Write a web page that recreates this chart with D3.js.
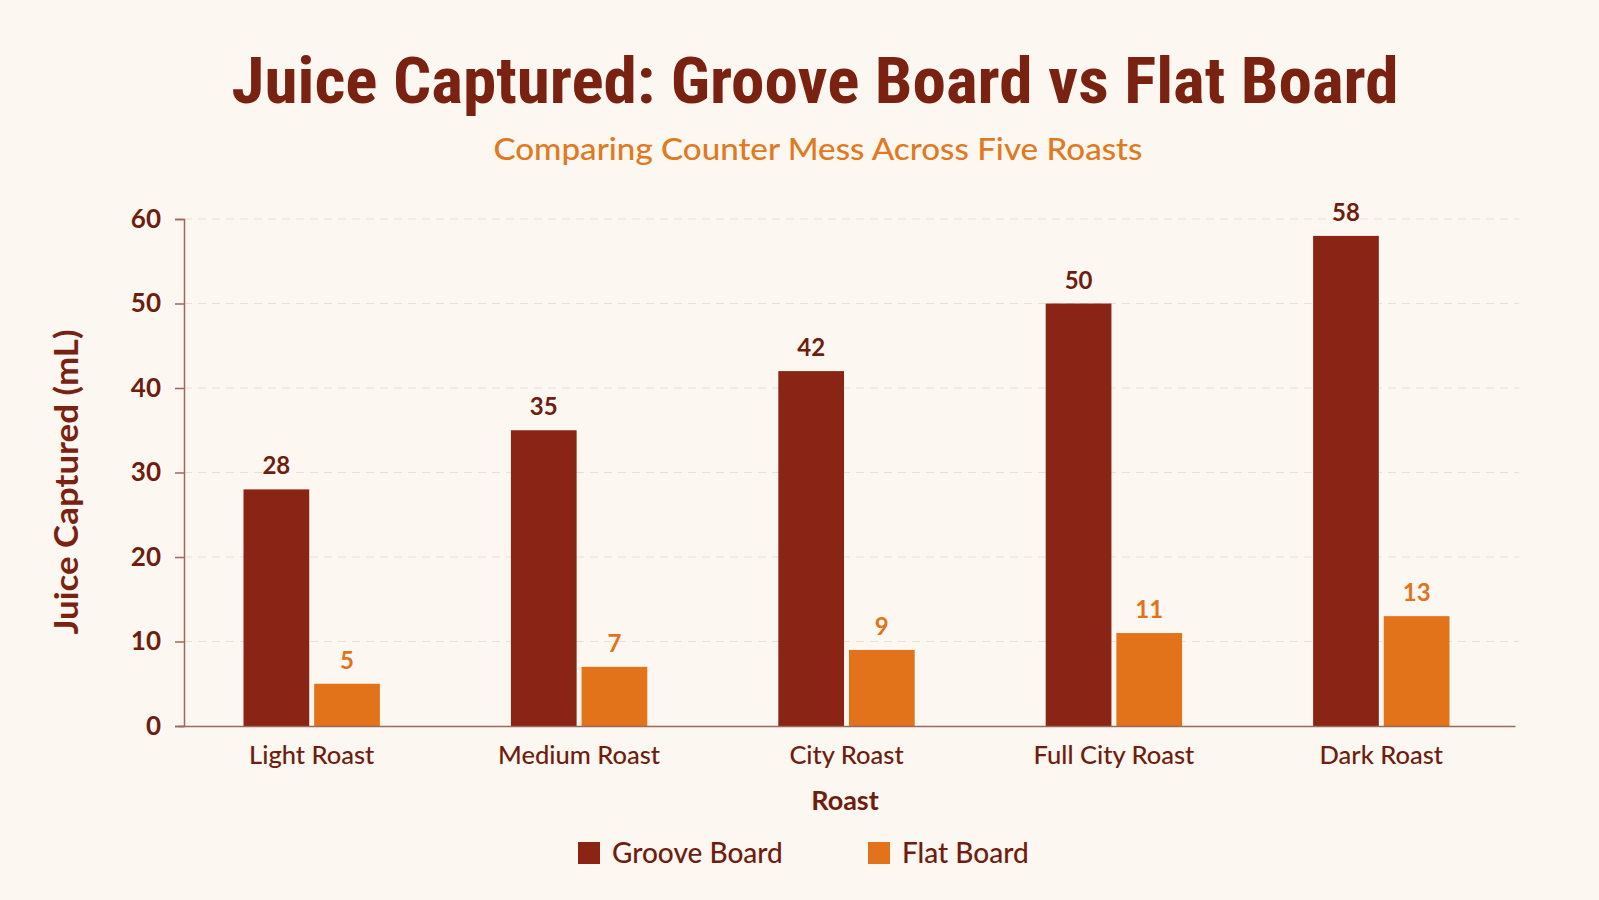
<!DOCTYPE html>
<html><head><meta charset="utf-8">
<script src="https://cdn.jsdelivr.net/npm/d3@7"></script>
<style>
html,body{margin:0;padding:0;background:#fcf7f0;}
svg{display:block;}
</style></head>
<body>
<svg id="c" width="1599" height="900"></svg>
<script>
const categories = ["Light Roast","Medium Roast","City Roast","Full City Roast","Dark Roast"];
const seriesNames = ["Groove Board","Flat Board"];
const grooveValues = [28,35,42,50,58];
const flatValues = [5,7,9,11,13];
const yTicks = [0,10,20,30,40,50,60];

const colors = {"Groove Board":"#8a2516","Flat Board":"#e2731b"};
const labelColors = {"Groove Board":"#6e1d0f","Flat Board":"#e2731b"};
const dark = "#6e1d0f";
const svg = d3.select("#c");
const W = 1599, H = 900;
const m = {left:184, right:1519, top:219, bottom:726};

svg.append("rect").attr("width",W).attr("height",H).attr("fill","#fcf7f0");

const data = categories.map((c,i)=>({cat:c, values:[{s:"Groove Board", v:grooveValues[i]},{s:"Flat Board", v:flatValues[i]}]}));

const x0 = d3.scaleBand().domain(categories).range([m.left-6,m.right-4]).paddingInner(0.49).paddingOuter(0.245);
const x1 = d3.scaleBand().domain(seriesNames).range([0,x0.bandwidth()]).paddingInner(0.07);
const y = d3.scaleLinear().domain([0,60]).range([m.bottom,m.top]);

// grid
svg.append("g").selectAll("line").data(yTicks.filter(d=>d>0)).join("line")
  .attr("x1",m.left).attr("x2",m.right).attr("y1",d=>y(d)).attr("y2",d=>y(d))
  .attr("stroke","#eadfd2").attr("stroke-width",1).attr("stroke-dasharray","8,6");

// bars
const g = svg.append("g").selectAll("g").data(data).join("g")
  .attr("transform",d=>`translate(${x0(d.cat)},0)`);
g.selectAll("rect").data(d=>d.values).join("rect")
  .attr("x",d=>x1(d.s)).attr("width",x1.bandwidth())
  .attr("y",d=>y(d.v)).attr("height",d=>y(0)-y(d.v))
  .attr("fill",d=>colors[d.s]);
g.selectAll("text").data(d=>d.values).join("text")
  .attr("x",d=>x1(d.s)+x1.bandwidth()/2).attr("y",d=>y(d.v)-15)
  .attr("text-anchor","middle").attr("font-family","Lato, sans-serif").attr("font-weight",700)
  .attr("font-size",24).attr("fill",d=>labelColors[d.s]).text(d=>d.v);

// y axis
const yAxis = svg.append("g").attr("transform",`translate(${m.left},0)`)
  .call(d3.axisLeft(y).tickValues(yTicks).tickSize(9).tickPadding(14));
yAxis.select(".domain").attr("stroke","#9a6a5e").attr("stroke-width",1.5);
yAxis.selectAll(".tick line").attr("stroke","#9a6a5e").attr("stroke-width",1.5);
yAxis.selectAll(".tick text").attr("font-family","Lato, sans-serif").attr("font-weight",700)
  .attr("font-size",26).attr("fill",dark);

// x axis
const xAxis = svg.append("g").attr("transform",`translate(0,${m.bottom})`)
  .call(d3.axisBottom(x0).tickSize(0).tickPadding(16));
xAxis.select(".domain").attr("stroke","#9a6a5e").attr("stroke-width",1.5);
xAxis.selectAll(".tick text").attr("font-family","Lato, sans-serif").attr("font-weight",500)
  .attr("font-size",25.5).attr("fill",dark).attr("dy","0.85em");

// titles
svg.append("text").attr("x",815).attr("y",103).attr("text-anchor","middle")
  .attr("font-family","'Liberation Sans Narrow', 'Roboto Condensed', Roboto, sans-serif").attr("font-weight",700)
  .attr("font-size",64).attr("fill","#7a2212")
  .attr("textLength",1167).attr("lengthAdjust","spacingAndGlyphs")
  .text("Juice Captured: Groove Board vs Flat Board");
svg.append("text").attr("x",818).attr("y",160).attr("text-anchor","middle")
  .attr("font-family","Lato, sans-serif").attr("font-weight",500)
  .attr("font-size",30).attr("fill","#e07a22")
  .attr("textLength",649).attr("lengthAdjust","spacingAndGlyphs")
  .text("Comparing Counter Mess Across Five Roasts");

svg.append("text").attr("transform","translate(78,482) rotate(-90)").attr("text-anchor","middle")
  .attr("font-family","Lato, sans-serif").attr("font-weight",700).attr("font-size",33).attr("fill","#7a2212")
  .attr("textLength",305).attr("lengthAdjust","spacingAndGlyphs")
  .text("Juice Captured (mL)");
svg.append("text").attr("x",845).attr("y",810).attr("text-anchor","middle")
  .attr("font-family","Lato, sans-serif").attr("font-weight",700).attr("font-size",27).attr("fill",dark)
  .text("Roast");

// legend
const legX = [578, 868];
const lg = svg.append("g").selectAll("g").data(seriesNames).join("g")
  .attr("transform",(d,i)=>`translate(${legX[i]},842)`);
lg.append("rect").attr("width",22).attr("height",22).attr("fill",d=>colors[d]);
lg.append("text").attr("x",34).attr("y",21).attr("font-family","Lato, sans-serif").attr("font-weight",500)
  .attr("font-size",28).attr("fill",dark).text(d=>d);
</script>
</body></html>
